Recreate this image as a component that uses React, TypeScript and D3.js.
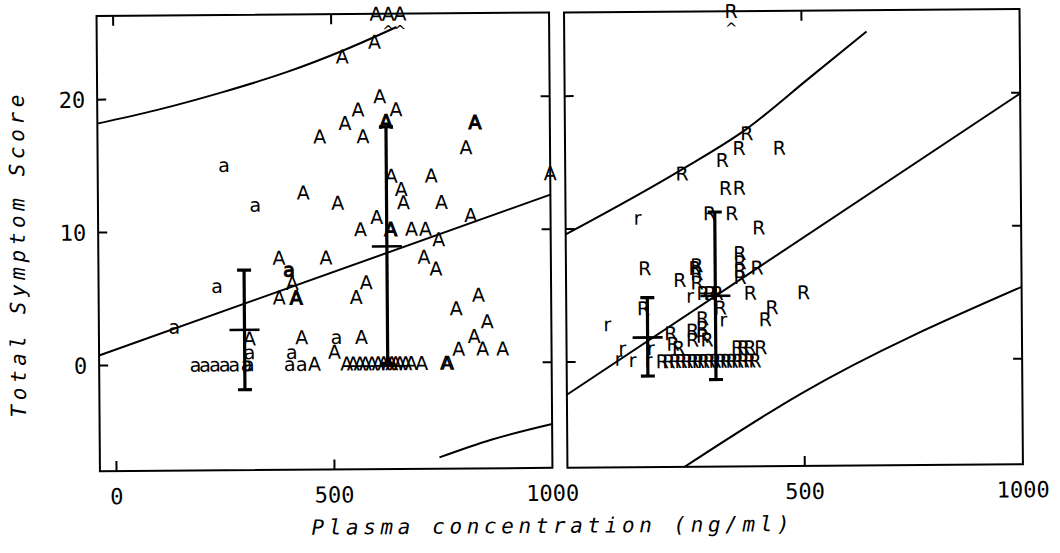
import React from 'react';
import * as d3 from 'd3';

const width = 1060;
const height = 553;

// axes
const yTicks = [0, 10, 20];
const leftXTicks = [0, 500, 1000];
const rightXTicks = [500, 1000];

// left panel: A = upper case group, a = lower case group
const leftA: [number, number][] = [
  [456, 0], [530, 0], [545, 0], [560, 0], [573, 0], [588, 0], [602, 0], [615, 0], [625, 0],
  [633, 0], [642, 0], [652, 0], [665, 0], [678, 0], [702, 0], [758, 0], [762, 0],
  [307, 1.95], [427, 2.0], [502, 0.9], [564, 2.0], [376, 8.0], [406, 6.1], [376, 5.0],
  [484, 8.0], [576, 6.1], [553, 5.0],
  [525, 23.1], [599, 24.2], [610, 20.1], [560, 19.1], [530, 18.1], [472, 17.1], [571, 17.1],
  [433, 12.9], [512, 12.1], [564, 10.1], [601, 11.0],
  [647, 19.1], [807, 16.2], [635, 14.1], [727, 14.1], [658, 13.1], [663, 12.1], [750, 12.1],
  [1000, 14.2], [817, 11.1], [681, 10.1], [713, 10.1], [743, 9.3],
  [709, 8.0], [736, 7.1], [782, 4.1], [833, 5.1], [853, 3.1], [823, 2.0], [787, 1.05],
  [842, 1.05], [888, 1.05],
];
const leftABold: [number, number][] = [[415, 5.0], [828, 18.1], [633, 10.1], [624, 18.2]];
const leftLower: [number, number][] = [
  [135, 2.86], [252, 15.0], [323, 12.0], [234, 5.9], [307, 0.9], [404, 0.9], [507, 2.0],
  [399, 0], [427, 0], [183, 0], [205, 0], [228, 0], [250, 0], [272, 0], [300, 0], [305, 0],
];
const leftLowerBold: [number, number][] = [[399, 7.1]];
const leftOffscale = [603, 631, 658];
const leftCaret = [631, 658];

// right panel: R = upper case group, r = lower case group
const rightR: [number, number][] = [
  [373, 17.1], [355, 16.0], [447, 16.0], [316, 15.1], [224, 14.1], [323, 13.0], [355, 13.0],
  [286, 11.1], [337, 11.1], [399, 10.0],
  [137, 7.0], [252, 7.0], [217, 6.1], [256, 7.2], [256, 6.6], [256, 5.9], [355, 8.1],
  [355, 7.4], [355, 6.8], [355, 6.3], [394, 7.0], [378, 5.1], [500, 5.1], [428, 4.0], [412, 3.1],
  [270, 5.1], [286, 5.1], [302, 5.1], [309, 4.0],
  [268, 3.2], [268, 2.5], [268, 1.9], [278, 1.6], [245, 2.3], [245, 1.6], [195, 2.1], [200, 1.3],
  [213, 1.0], [348, 1.0], [362, 1.0], [376, 1.0], [401, 1.0], [133, 4.0],
  [175, 0], [190, 0], [205, 0], [218, 0], [232, 0], [245, 0], [258, 0], [270, 0], [283, 0],
  [296, 0], [310, 0], [322, 0], [335, 0], [348, 0], [361, 0], [375, 0], [388, 0],
];
const rightLower: [number, number][] = [
  [121, 10.8], [50, 2.8], [84, 1.0], [75, 0.2], [107, 0.1], [149, 1.0], [144, 0.1],
  [240, 4.9], [316, 3.1],
];
const rightOffscale = [339];

// regression line and prediction bands
const leftFit: [number, number][] = [[-38, 0.76], [1000, 12.6]];
const leftUpper: [number, number][] = [[-38, 18.2], [100, 19.2], [250, 20.5], [400, 22.0], [530, 23.6], [650, 25.3]];
const leftLowerBand: [number, number][] = [[741, -7.1], [860, -5.8], [1000, -4.65]];
const rightFit: [number, number][] = [[-44, -2.46], [1000, 19.95]];
const rightUpper: [number, number][] = [[-44, 9.6], [217, 14.3], [371, 17.4], [516, 21.2], [649, 24.7]];
const rightLowerBand: [number, number][] = [[222, -8.0], [493, -2.5], [1000, 5.4]];

// mean with range bars
const leftBars = [
  { x: 296, lo: -1.9, mean: 2.6, hi: 7.1 },
  { x: 624, lo: 0, mean: 8.8, hi: 17.8 },
];
const rightBars = [
  { x: 142, lo: -1.1, mean: 1.8, hi: 4.8 },
  { x: 298, lo: -1.4, mean: 4.9, hi: 11.2 },
];

const y = d3.scaleLinear().domain([-7.95, 26.3]).range([468, 12.7]);
const top = y.range()[1];
const bottom = y.range()[0];

const markFont = "'DejaVu Sans', sans-serif";
const monoFont = "'DejaVu Sans Mono', monospace";

function Marks({ x, pts, ch, bold }: any) {
  return (
    <g fontFamily={markFont} fontSize={19} textAnchor="middle"
      stroke={bold ? '#000' : 'none'} strokeWidth={bold ? 1.1 : 0}>
      {pts.map((d: [number, number], i: number) => (
        <text key={i} x={x(d[0])} y={y(d[1])} dy="0.36em" fill="#000">{ch}</text>
      ))}
    </g>
  );
}

function Panel({ id, x0, x1, domain, xTicks, showY, A, ABold, lower, lowerBold, upperCh, lowerCh,
  offscale, caret, fit, upper, lowerBand, bars }: any) {
  const x = d3.scaleLinear().domain(domain).range([x0, x1]);
  const line = d3.line<[number, number]>().x((d) => x(d[0])).y((d) => y(d[1])).curve(d3.curveMonotoneX);
  return (
    <g>
      <clipPath id={id}>
        <rect x={x0} y={top} width={x1 - x0} height={bottom - top} />
      </clipPath>
      <g clipPath={`url(#${id})`} fill="none" stroke="#000" strokeWidth={2}>
        <path d={line(fit) || ''} />
        <path d={line(upper) || ''} />
        <path d={line(lowerBand) || ''} />
      </g>
      <Marks x={x} pts={A} ch={upperCh} />
      {ABold && <Marks x={x} pts={ABold} ch={upperCh} bold />}
      <Marks x={x} pts={lower} ch={lowerCh} />
      {lowerBold && <Marks x={x} pts={lowerBold} ch={lowerCh} bold />}
      <g fontFamily={markFont} fontSize={19} textAnchor="middle">
        {offscale.map((v: number, i: number) => (
          <text key={i} x={x(v)} y={top} dy="0.36em">{upperCh}</text>
        ))}
        {caret.map((v: number, i: number) => (
          <text key={'c' + i} x={x(v)} y={top + 17} dy="0.36em" fontSize={15}>^</text>
        ))}
      </g>
      <g stroke="#000" strokeWidth={3.2}>
        {bars.map((b: any, i: number) => (
          <g key={i}>
            <line x1={x(b.x)} x2={x(b.x)} y1={y(b.lo)} y2={y(b.hi)} />
            <line x1={x(b.x) - 7} x2={x(b.x) + 7} y1={y(b.lo)} y2={y(b.lo)} />
            <line x1={x(b.x) - 7} x2={x(b.x) + 7} y1={y(b.hi)} y2={y(b.hi)} />
            <line x1={x(b.x) - 15} x2={x(b.x) + 15} y1={y(b.mean)} y2={y(b.mean)} strokeWidth={2.6} />
          </g>
        ))}
      </g>
      <rect x={x0} y={top} width={x1 - x0} height={bottom - top} fill="none" stroke="#000" strokeWidth={2} />
      <g stroke="#000" strokeWidth={2}>
        {yTicks.map((t) => (
          <g key={t}>
            <line x1={x0} x2={x0 + 9} y1={y(t)} y2={y(t)} />
            <line x1={x1 - 9} x2={x1} y1={y(t)} y2={y(t)} />
          </g>
        ))}
        {xTicks.filter((t: number) => t < domain[1]).map((t: number) => (
          <g key={t}>
            <line x1={x(t)} x2={x(t)} y1={top} y2={top + 10} />
            <line x1={x(t)} x2={x(t)} y1={bottom} y2={bottom - 10} />
          </g>
        ))}
      </g>
      <g fontFamily={monoFont} fontSize={22} textAnchor="middle">
        {xTicks.map((t: number) => (
          <text key={t} x={x(t)} y={501}>{t}</text>
        ))}
      </g>
      {showY && (
        <g fontFamily={monoFont} fontSize={22} textAnchor="end">
          {yTicks.map((t) => (
            <text key={t} x={x0 - 12} y={y(t)} dy="0.36em">{t}</text>
          ))}
        </g>
      )}
    </g>
  );
}

export default function App() {
  return (
    <svg width={width} height={height} style={{ position: 'absolute', left: 0, top: 0, background: '#fff' }}>
      <rect width={width} height={height} fill="#fff" />
      <g transform="rotate(-0.43 530 276)">
        <Panel id="clipL" x0={98.5} x1={551} domain={[-38, 1000]} xTicks={leftXTicks} showY
          A={leftA} ABold={leftABold} lower={leftLower} lowerBold={leftLowerBold}
          upperCh="A" lowerCh="a" offscale={leftOffscale} caret={leftCaret}
          fit={leftFit} upper={leftUpper} lowerBand={leftLowerBand} bars={leftBars} />
        <Panel id="clipR" x0={566} x1={1021.5} domain={[-44, 1000]} xTicks={rightXTicks}
          A={rightR} lower={rightLower}
          upperCh="R" lowerCh="r" offscale={rightOffscale} caret={rightOffscale}
          fit={rightFit} upper={rightUpper} lowerBand={rightLowerBand} bars={rightBars} />
        <text transform="translate(25,250) rotate(-90)" textAnchor="middle" fontFamily={monoFont}
          fontStyle="italic" fontSize={21} letterSpacing={4.6}>Total Symptom Score</text>
        <text x={551} y={533} textAnchor="middle" fontFamily={monoFont} fontStyle="italic"
          fontSize={21} letterSpacing={4.6}>Plasma concentration (ng/ml)</text>
      </g>
    </svg>
  );
}
